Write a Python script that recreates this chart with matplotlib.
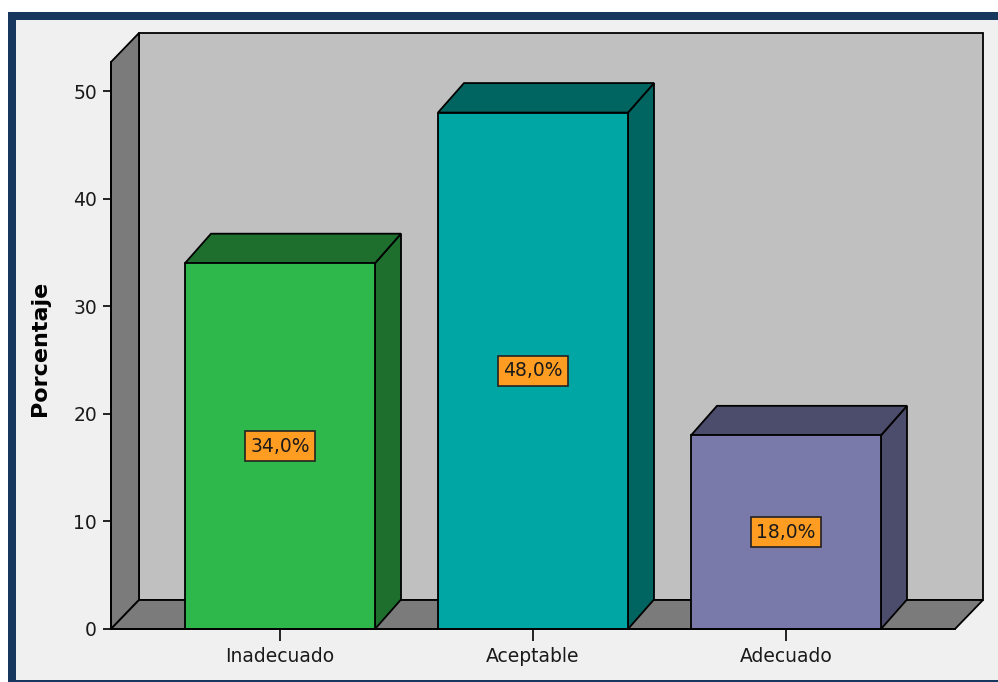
import matplotlib
matplotlib.use("Agg")
import matplotlib.pyplot as plt
from matplotlib.patches import Polygon, Rectangle

# Data
categories = ["Inadecuado", "Aceptable", "Adecuado"]
percentages = [34.0, 48.0, 18.0]
value_labels = ["34,0%", "48,0%", "18,0%"]
y_ticks = [0, 10, 20, 30, 40, 50]

# Colours: front face, side/top face
front_colors = ["#2EB84B", "#00A6A3", "#7A7AAA"]
shade_colors = ["#1E6F2E", "#006461", "#4C4C6C"]

plt.rcParams["font.family"] = ["DejaVu Sans"]

W, H, DPI = 998, 682, 100
fig = plt.figure(figsize=(W / DPI, H / DPI), dpi=DPI, facecolor="white")

# Frame around the chart
fig.patches.append(Rectangle((8 / W, 0), 1.0, 1 - 12 / H, transform=fig.transFigure,
                             facecolor="#17375E", edgecolor="none", zorder=-2))
fig.patches.append(Rectangle((16 / W, 2 / H), 1.0, 1 - 22 / H, transform=fig.transFigure,
                             facecolor="#F0F0F0", edgecolor="none", zorder=-1))

# Axes box in pixels (front plane)
ax_l, ax_r, ax_t, ax_b = 111, 955, 62, 629
ax = fig.add_axes([ax_l / W, 1 - ax_b / H, (ax_r - ax_l) / W, (ax_b - ax_t) / H])
ax.set_facecolor("none")
ax.set_zorder(1)

xlim = (-0.668, 2.668)
ylim = (0, 52.7)
ax.set_xlim(*xlim)
ax.set_ylim(*ylim)

px_x = (ax_r - ax_l) / (xlim[1] - xlim[0])
px_y = (ax_b - ax_t) / (ylim[1] - ylim[0])

# depth offsets in data units
wdx, wdy = 28 / px_x, 29 / px_y
bdx, bdy = 26 / px_x, 29.5 / px_y

edge = dict(edgecolor="black", linewidth=1.3, clip_on=False, joinstyle="miter")

x0, x1 = xlim
y0, y1 = ylim
# back wall
ax.add_patch(Polygon([(x0 + wdx, y0 + wdy), (x1 + wdx, y0 + wdy), (x1 + wdx, y1 + wdy),
                      (x0 + wdx, y1 + wdy)], facecolor="#C0C0C0", zorder=1, **edge))
# side wall
ax.add_patch(Polygon([(x0, y0), (x0 + wdx, y0 + wdy), (x0 + wdx, y1 + wdy), (x0, y1)],
                     facecolor="#7B7B7B", zorder=1, **edge))
# floor
ax.add_patch(Polygon([(x0, y0), (x1, y0), (x1 + wdx, y0 + wdy), (x0 + wdx, y0 + wdy)],
                     facecolor="#7B7B7B", zorder=1, **edge))

bar_w = 190 / px_x
for i, (v, fc, sc, lab) in enumerate(zip(percentages, front_colors, shade_colors, value_labels)):
    xl, xr = i - bar_w / 2, i + bar_w / 2
    # side face
    ax.add_patch(Polygon([(xr, 0), (xr + bdx, bdy), (xr + bdx, v + bdy), (xr, v)],
                         facecolor=sc, zorder=3, **edge))
    # top face
    ax.add_patch(Polygon([(xl, v), (xr, v), (xr + bdx, v + bdy), (xl + bdx, v + bdy)],
                         facecolor=sc, zorder=3, **edge))
    # front face
    ax.add_patch(Rectangle((xl, 0), bar_w, v, facecolor=fc, zorder=4, **edge))
    ax.text(i, v / 2, lab, ha="center", va="center", fontsize=13.5, color="#1A1A1A",
            zorder=6, bbox=dict(boxstyle="square,pad=0.3", facecolor="#FF9C22",
                                edgecolor="#222222", linewidth=1.2))

for side in ["top", "right"]:
    ax.spines[side].set_visible(False)
for side in ["left", "bottom"]:
    ax.spines[side].set_color("black")
    ax.spines[side].set_linewidth(1.3)
    ax.spines[side].set_zorder(5)

ax.set_yticks(y_ticks)
ax.set_yticklabels([str(t) for t in y_ticks])
ax.set_xticks(range(len(categories)))
ax.set_xticklabels(categories)
ax.tick_params(axis="y", length=5.8, width=1.2, pad=4.3, labelsize=13.5,
               colors="black", labelcolor="#1A1A1A")
ax.tick_params(axis="x", length=8.6, width=1.2, pad=4.0, labelsize=13.5,
               colors="black", labelcolor="#1A1A1A")

fig.text(40 / W, 1 - 348 / H, "Porcentaje", rotation=90, ha="center", va="center",
         fontsize=16, fontweight="bold", color="black")

fig.savefig("out.png", dpi=DPI, facecolor="white")
